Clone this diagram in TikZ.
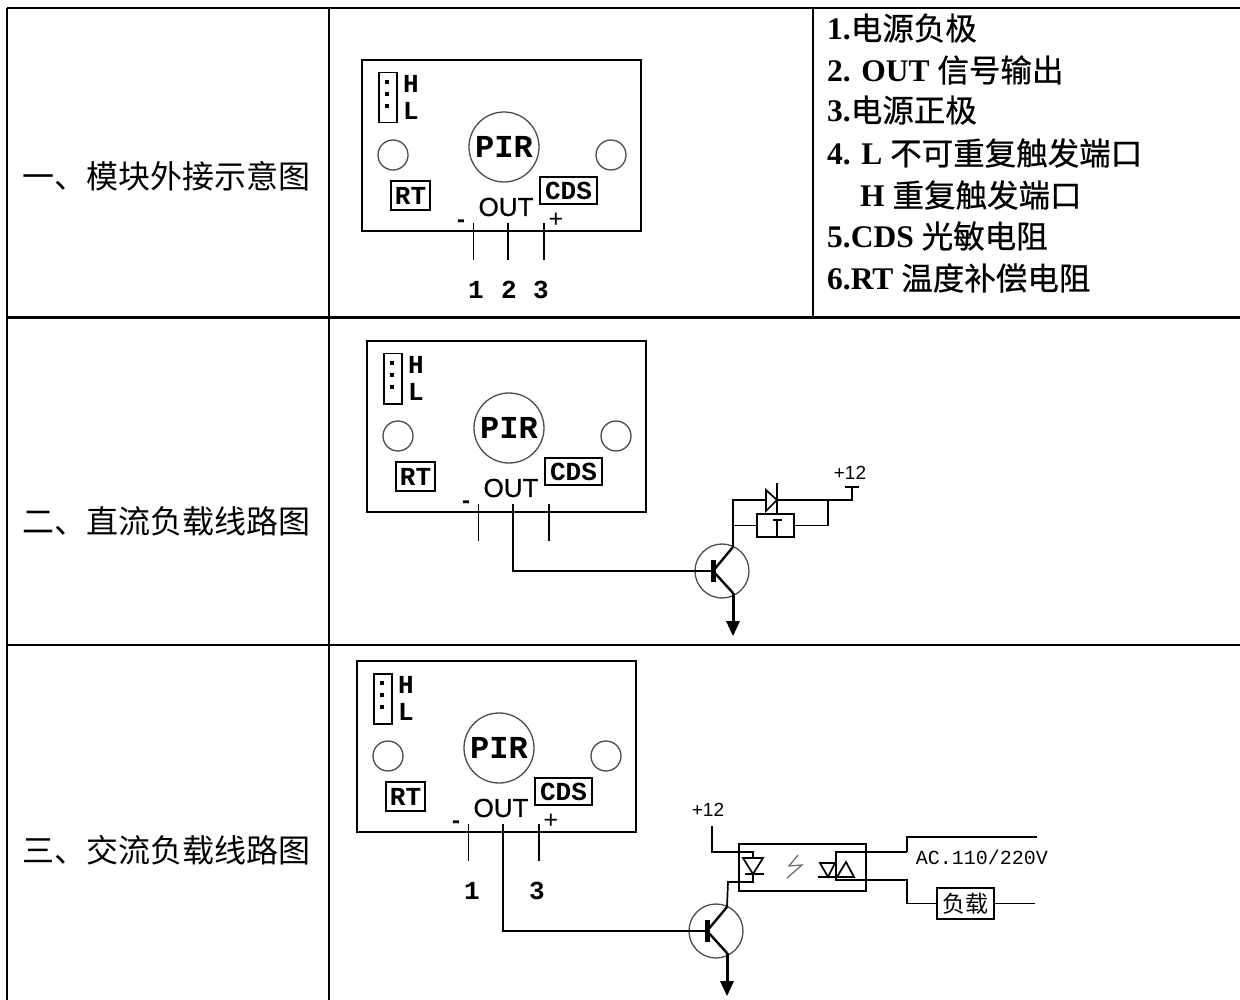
\documentclass[tikz,border=0pt]{standalone}
\usepackage{fontspec}
\setmainfont{Liberation Serif}
\newfontfamily\cnfont{Noto Sans CJK SC}
\newfontfamily\cnbold{Noto Sans CJK SC}[FakeBold=0.6]
\newfontfamily\slabfont{Liberation Mono}[BoldFont={Liberation Mono Bold}]
\newfontfamily\plainsans{Liberation Sans}
\newfontfamily\heavysans{Liberation Sans}[FakeBold=0.8]
\newcommand{\fs}[1]{\fontsize{#1}{#1}\selectfont}
\newcommand{\cn}[1]{{\cnfont #1}}
\newcommand{\cb}[1]{{\cnbold\mdseries #1}}
\tikzset{
  grid line/.style={line width=2.4pt,black},
  wire/.style={line width=1.7pt,black},
  thin wire/.style={line width=1.2pt,black!75},
  label text/.style={inner sep=0,anchor=base west,font=\bfseries\fs{31.5}},
  slab/.style={inner sep=0,font=\slabfont\bfseries\fs{26}},
  ring/.style={draw,circle,inner sep=0,line width=1.3pt,black!70},
  pin dot/.style={fill,inner sep=0,minimum size=3.5pt},
  sym text/.style={inner sep=0,font=\plainsans\fs{19}},
}
\newcommand{\modulebody}{
  \node[draw,line width=2pt,inner sep=0,minimum width=279pt,minimum height=171pt,anchor=north west] (board) at (0,0) {};
  \node[draw,line width=1.5pt,inner sep=0,minimum width=18pt,minimum height=50pt,anchor=north west] (jumper) at (17,13) {};
  \node[pin dot] (dot1) at (26,23) {};
  \node[pin dot] (dot2) at (26,35) {};
  \node[pin dot] (dot3) at (26,47) {};
  \node[slab] (hlab) at (50,25) {H};
  \node[slab] (llab) at (50,52) {L};
  \node[ring,minimum size=70pt] (pir) at (143,88) {};
  \node[slab,font=\slabfont\bfseries\fs{32}] (pirtext) at (143,88) {PIR};
  \node[ring,minimum size=30pt] (holeL) at (32,96) {};
  \node[ring,minimum size=30pt] (holeR) at (250,96) {};
  \node[draw,line width=1.7pt,inner sep=0,minimum width=39pt,minimum height=29pt] (rt) at (49.5,136.5) {};
  \node[slab] at (rt.center) (rttext) {RT};
  \node[draw,line width=1.7pt,inner sep=0,minimum width=57pt,minimum height=27pt] (cds) at (207.5,131.5) {};
  \node[slab] at (cds.center) (cdstext) {CDS};
  \node[inner sep=0,font=\heavysans\fs{26}] (out) at (145,148) {OUT};
  \node[inner sep=0,font=\plainsans\bfseries\fs{24}] (minus) at (100,165) {-};
  \coordinate (p1t) at (112.5,164); \coordinate (p1b) at (112.5,201);
  \coordinate (p2t) at (147,164);   \coordinate (p2b) at (147,201);
  \coordinate (p3t) at (183,164);   \coordinate (p3b) at (183,201);
  \draw[wire] (p1t) -- (p1b);
  \draw[wire] (p2t) -- (p2b);
  \draw[wire] (p3t) -- (p3b);
}
\newcommand{\plussign}{\node[inner sep=0,font=\plainsans\fs{25}] (plus) at (195,161) {+};}
\newcommand{\transistor}{
  \node[ring,minimum size=54pt] (body) at (0,0) {};
  \node[fill,inner sep=0,minimum width=5pt,minimum height=22pt] (bar) at (-9,0) {};
  \coordinate (coll) at (11,-24);
  \coordinate (emit) at (11,22);
  \draw[line width=2.4pt] (bar.center) -- (coll);
  \draw[line width=2.4pt] (bar.center) -- (emit);
  \coordinate (tip) at (11,65);
  \coordinate (hl) at (4,50); \coordinate (hr) at (18,50); \coordinate (hm) at (11,53);
  \draw[line width=3pt] (emit) -- (hm);
  \fill (hl) -- (hr) -- (tip) -- cycle;
}
\begin{document}
\begin{tikzpicture}[x=1pt,y=-1pt]
\useasboundingbox (0,0) rectangle (1240,1000);
\fill[white] (0,0) rectangle (1240,1000);
% table
\coordinate (tl) at (7,8); \coordinate (tr) at (1240,8);
\coordinate (ml) at (7,317.5); \coordinate (mr) at (1240,317.5);
\coordinate (ll) at (7,645); \coordinate (lr) at (1240,645);
\coordinate (c0b) at (7,1000);
\coordinate (c1t) at (329,8); \coordinate (c1b) at (329,1000);
\coordinate (c2t) at (813,8); \coordinate (c2b) at (813,317.5);
\draw[grid line] (tl) -- (tr);
\draw[grid line] (ml) -- (mr);
\draw[grid line] (ll) -- (lr);
\draw[grid line] (tl) -- (c0b);
\draw[grid line] (c1t) -- (c1b);
\draw[grid line] (c2t) -- (c2b);
% left labels
\node[inner sep=0,anchor=base west,font=\fs{32}] (row1) at (22,189) {\cn{一、模块外接示意图}};
\node[inner sep=0,anchor=base west,font=\fs{32}] (row2) at (22,533) {\cn{二、直流负载线路图}};
\node[inner sep=0,anchor=base west,font=\fs{32}] (row3) at (22,862) {\cn{三、交流负载线路图}};
% legend
\node[label text] (l1) at (827,40) {1.\cb{电源负极}};
\node[label text] (l2) at (827,82) {2. OUT \cb{信号输出}};
\node[label text] (l3) at (827,122) {3.\cb{电源正极}};
\node[label text] (l4) at (827,165) {4. L \cb{不可重复触发端口}};
\node[label text] (l5) at (860,207) {H \cb{重复触发端口}};
\node[label text] (l6) at (827,248) {5.CDS \cb{光敏电阻}};
\node[label text] (l7) at (827,290) {6.RT \cb{温度补偿电阻}};
% module 1
\begin{scope}[shift={(361,59)},name prefix=a-]
  \modulebody \plussign
\end{scope}
\node[slab] (n1) at (476,290) {1};
\node[slab] (n2) at (509,290) {2};
\node[slab] (n3) at (541,290) {3};
% module 2
\begin{scope}[shift={(366,340)},name prefix=b-]
  \modulebody
\end{scope}
\begin{scope}[shift={(722,571)},name prefix=bt-]
  \transistor
\end{scope}
\coordinate (bw1) at (513,571);
\draw[wire] (b-p2b) -- (bw1) -- (bt-bar.center);
\coordinate (bc1) at (733,500); \coordinate (bc2) at (733,525.5);
\coordinate (br1) at (828,500); \coordinate (br2) at (828,525.5);
\coordinate (bp) at (852,500); \coordinate (bp2) at (852,487);
\coordinate (bpl) at (845,487); \coordinate (bpr) at (859,487);
\node[draw,line width=1.7pt,inner sep=0,minimum width=37pt,minimum height=23pt] (relay) at (775.5,525.5) {};
\coordinate (da) at (766,490); \coordinate (db) at (766,511); \coordinate (dc) at (777,500);
\coordinate (dt) at (777,483); \coordinate (dd) at (777,514);
\draw[wire] (bt-coll) -- (bc1) -- (da |- bc1);
\draw[wire] (dc) -- (bp) -- (bp2);
\draw[wire] (bpl) -- (bpr);
\draw[wire] (da) -- (db) -- (dc) -- cycle;
\draw[wire] (dt) -- (dd);
\draw[wire] (bc2) -- (relay.west);
\draw[wire] (relay.east) -- (br2) -- (br1);
\coordinate (rt1) at (777,520); \coordinate (rt2) at (777,536);
\coordinate (rt3) at (773,520); \coordinate (rt4) at (782,520);
\draw[line width=1.3pt] (rt1) -- (rt2) (rt3) -- (rt4);
\node[sym text] (bplus) at (850,473) {+12};
% module 3
\begin{scope}[shift={(356,660)},name prefix=c-]
  \modulebody \plussign
\end{scope}
\node[slab] (m1) at (472,891) {1};
\node[slab] (m3) at (537,891) {3};
\begin{scope}[shift={(716,931)},name prefix=ct-]
  \transistor
\end{scope}
\coordinate (cw1) at (503,931);
\draw[wire] (c-p2b) -- (cw1) -- (ct-bar.center);
\node[draw,line width=1.5pt,inner sep=0,minimum width=127pt,minimum height=47pt] (opto) at (802.5,867.5) {};
\node[sym text] (cplus) at (708,810) {+12};
\coordinate (s1) at (712,826); \coordinate (s2) at (712,852); \coordinate (s3) at (753,852);
\coordinate (d1) at (743,858); \coordinate (d2) at (763,858); \coordinate (d3) at (753,874);
\coordinate (d4) at (745,874); \coordinate (d5) at (764,874);
\coordinate (e1) at (753,882); \coordinate (e2) at (728,882);
\draw[wire] (s1) -- (s2) -- (s3) -- (d1 -| s3);
\draw[wire] (d1) -- (d2) -- (d3) -- cycle;
\draw[wire] (d4) -- (d5);
\draw[wire] (d3) -- (e1) -- (e2) -- (ct-coll);
\coordinate (z1) at (798,855); \coordinate (z2) at (789,866); \coordinate (z3) at (802,865); \coordinate (z4) at (787,878);
\draw[thin wire,black!60] (z1) -- (z2) -- (z3) -- (z4);
\coordinate (t1) at (820,863); \coordinate (t2) at (835,863); \coordinate (t3) at (828,877);
\coordinate (t4) at (837,877); \coordinate (t5) at (854,877); \coordinate (t6) at (846,862);
\coordinate (t7) at (818,877); \coordinate (u1) at (836,852); \coordinate (u2) at (836,880);
\coordinate (u3) at (907,852); \coordinate (u4) at (907,837); \coordinate (u5) at (1037,837);
\coordinate (v1) at (907,880); \coordinate (v2) at (907,903.5); \coordinate (v3) at (1035,903.5);
\draw[wire] (t1) -- (t2) -- (t3) -- cycle;
\draw[wire] (t4) -- (t5) -- (t6) -- cycle;
\draw[wire] (t7) -- (t5);
\draw[wire] (u3) -- (u1) -- (u2) -- (v1) -- (v2);
\draw[wire] (u3) -- (u4) -- (u5);
\node[draw,line width=1.7pt,inner sep=0,minimum width=57pt,minimum height=31pt,font=\cnfont\fs{23}] (load) at (965.5,903.5) {负载};
\draw[wire] (v2) -- (load.west);
\draw[wire] (load.east) -- (v3);
\node[inner sep=0,font=\slabfont\fs{20}] (ac) at (982,857) {AC.110/220V};
\end{tikzpicture}
\end{document}
